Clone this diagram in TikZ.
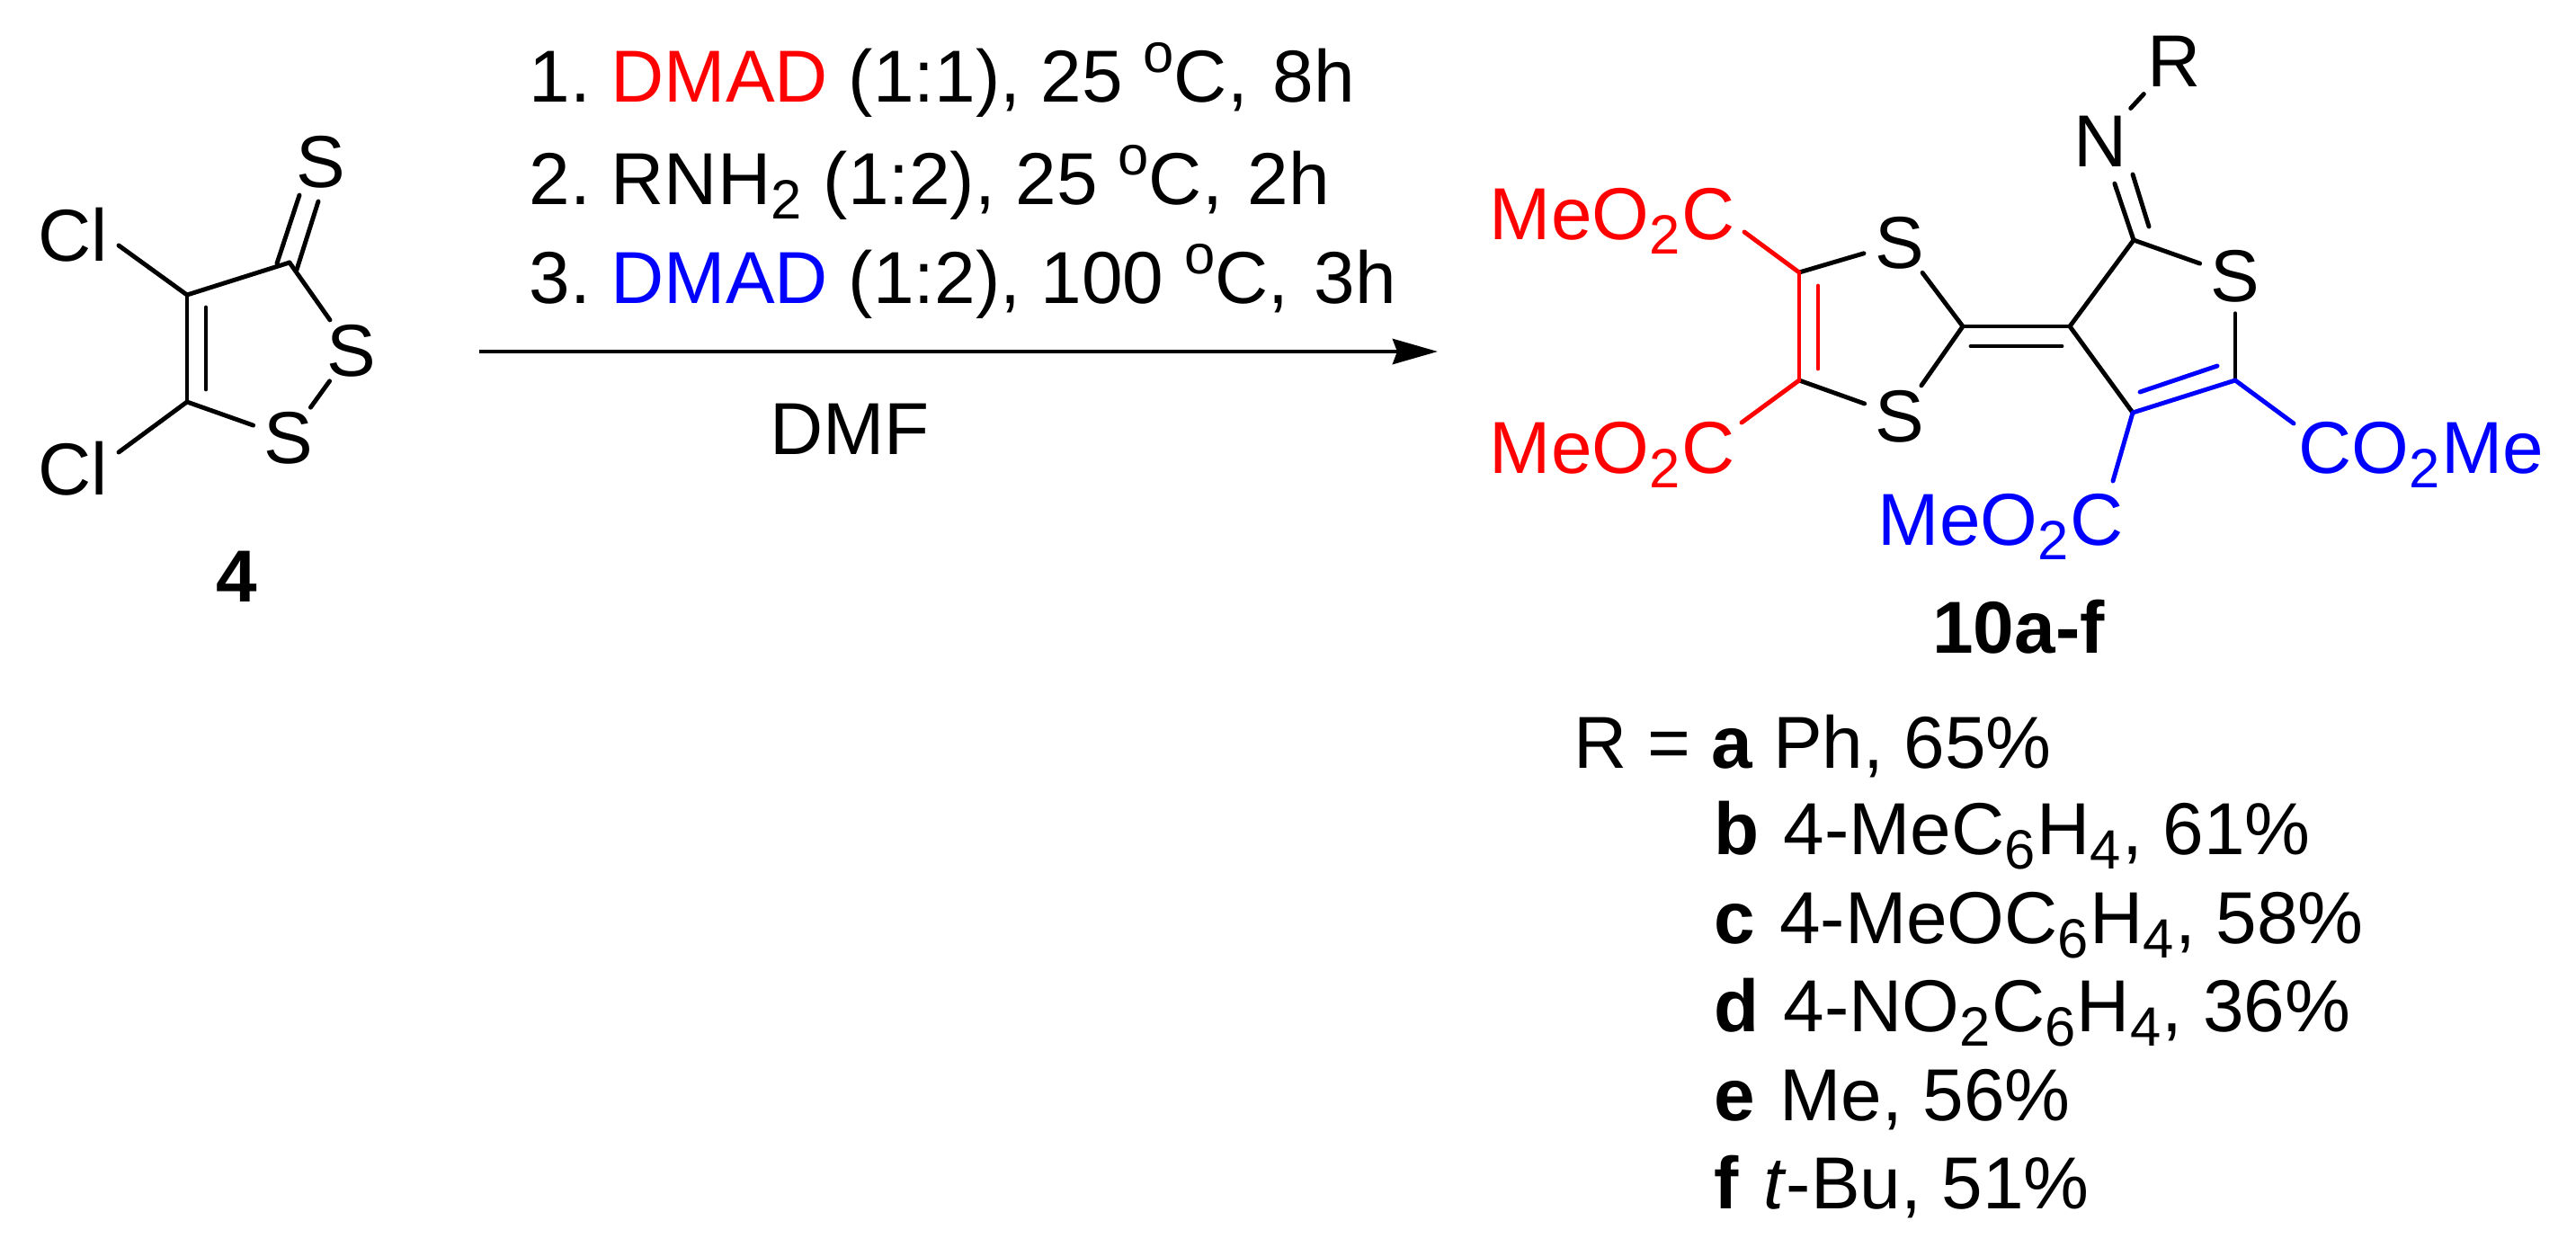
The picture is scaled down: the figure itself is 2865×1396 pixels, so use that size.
\documentclass[tikz,border=0pt]{standalone}
\usepackage{fontspec}
\setmainfont{Liberation Sans}
\usetikzlibrary{arrows.meta}
\newcommand{\subs}[1]{\raisebox{-4.8pt}{\fontsize{17.5}{18}\selectfont #1}\kern0.4pt\relax}
\newcommand{\sups}[1]{\raisebox{9.3pt}{\fontsize{17.5}{18}\selectfont #1}}
\newcommand{\rowtag}[1]{\textbf{#1}\kern1.2pt\relax}
\tikzset{
    bond/.style={line width=1.4pt, line cap=round},
    atom/.style={circle, inner sep=0pt, minimum size=0.82cm, font=\fontsize{23.3}{26}\selectfont},
    wideatom/.style={atom, minimum size=0.98cm},
    label/.style={inner sep=0pt, font=\fontsize{23.3}{26}\selectfont},
    boldlabel/.style={label, font=\fontsize{23.3}{26}\selectfont\bfseries},
}
\begin{document}
\frenchspacing
\begin{tikzpicture}[x=0.01cm, y=-0.01cm]
    \useasboundingbox (0, 0) rectangle (2865, 1396);

    % compound 4
    \coordinate (c4) at (208, 328);
    \coordinate (c5) at (208, 447);
    \coordinate (c3) at (322, 292);
    \coordinate (i4) at (229, 342);
    \coordinate (i5) at (229, 433);
    \coordinate (ta) at (308, 293);
    \coordinate (tb) at (333, 217);
    \coordinate (tc) at (330, 300);
    \coordinate (td) at (354, 224);
    \coordinate (ga) at (132, 273);
    \coordinate (gb) at (132, 503);
    \node[atom] (thio) at (357, 180) {S};
    \node[atom] (sr) at (391, 390) {S};
    \node[atom] (sb) at (321, 487) {S};
    \node[label, anchor=base] (cla) at (81, 290) {Cl};
    \node[label, anchor=base] (clb) at (81, 550) {Cl};
    \node[boldlabel] (four) at (263, 641) {4};

    \draw[bond] (c4) -- (c3);
    \draw[bond] (c4) -- (c5);
    \draw[bond] (i4) -- (i5);
    \draw[bond] (c3) -- (sr);
    \draw[bond] (sr) -- (sb);
    \draw[bond] (c5) -- (sb);
    \draw[bond] (c4) -- (ga);
    \draw[bond] (c5) -- (gb);
    \draw[bond] (ta) -- (tb);
    \draw[bond] (tc) -- (td);

    % reaction conditions
    \coordinate (arra) at (533, 391);
    \coordinate (arrb) at (1599, 391);
    \draw[bond, -{Stealth[length=0.5cm, width=0.28cm, inset=0.05cm]}, line cap=butt] (arra) -- (arrb);
    \node[label, anchor=base west] (stepa) at (588, 113)
        {1. \textcolor{red}{DMAD} (1:1), 25 \sups{o}C,\kern1.5pt{} 8h};
    \node[label, anchor=base west] (stepb) at (588, 227)
        {2. RNH\subs{2} (1:2), 25 \sups{o}C,\kern1.5pt{} 2h};
    \node[label, anchor=base west] (stepc) at (588, 337)
        {3. \textcolor{blue}{DMAD} (1:2), 100 \sups{o}C,\kern1.5pt{} 3h};
    \node[label, anchor=base] (dmf) at (945, 505) {DMF};

    % compound 10
    \coordinate (ca) at (2001, 303);
    \coordinate (cb) at (2001, 423);
    \coordinate (cm) at (2183, 363);
    \coordinate (cc) at (2302, 363);
    \coordinate (cn) at (2373, 267);
    \coordinate (cd) at (2486, 423);
    \coordinate (ce) at (2372, 459);
    \coordinate (ia) at (2022, 318);
    \coordinate (ib) at (2022, 410);
    \coordinate (ic) at (2192, 385);
    \coordinate (id) at (2293, 385);
    \coordinate (ie) at (2380, 436);
    \coordinate (if) at (2466, 407);
    \coordinate (ig) at (2390, 252);
    \coordinate (ih) at (2372, 194);
    \coordinate (ea) at (1940, 258);
    \coordinate (eb) at (1937, 470);
    \coordinate (ec) at (2350, 535);
    \coordinate (ed) at (2551, 471);
    \node[atom] (st) at (2113, 270) {S};
    \node[atom] (sd) at (2113, 463) {S};
    \node[atom] (sn) at (2486, 307) {S};
    \node[wideatom] (imn) at (2336, 157) {N};
    \node[wideatom] (rr) at (2418, 68) {R};
    \node[label, red, anchor=base east] (mea) at (1930, 266) {MeO\subs{2}C};
    \node[label, red, anchor=base east] (meb) at (1930, 526) {MeO\subs{2}C};
    \node[label, blue, anchor=base east] (mec) at (2362, 606) {MeO\subs{2}C};
    \node[label, blue, anchor=base west] (med) at (2556, 526) {CO\subs{2}Me};
    \node[boldlabel, anchor=base] (ten) at (2245, 726) {10a-f};

    \draw[bond] (ca) -- (st);
    \draw[bond] (st) -- (cm);
    \draw[bond] (cm) -- (sd);
    \draw[bond] (sd) -- (cb);
    \draw[bond] (cm) -- (cc);
    \draw[bond] (ic) -- (id);
    \draw[bond] (cc) -- (cn);
    \draw[bond] (cn) -- (sn);
    \draw[bond] (sn) -- (cd);
    \draw[bond] (cc) -- (ce);
    \draw[bond] (cn) -- (imn);
    \draw[bond] (ig) -- (ih);
    \draw[bond] (imn) -- (rr);
    \draw[bond, red] (ca) -- (cb);
    \draw[bond, red] (ia) -- (ib);
    \draw[bond, red] (ca) -- (ea);
    \draw[bond, red] (cb) -- (eb);
    \draw[bond, blue] (ce) -- (cd);
    \draw[bond, blue] (ie) -- (if);
    \draw[bond, blue] (ce) -- (ec);
    \draw[bond, blue] (cd) -- (ed);

    % substituents
    \node[label, anchor=base west] (ra) at (1750, 854) {R = \textbf{a} Ph, 65\%};
    \node[label, anchor=base west] (rb) at (1906, 950) {\rowtag{b} 4-MeC\subs{6}H\subs{4}, 61\%};
    \node[label, anchor=base west] (rc) at (1906, 1049) {\rowtag{c} 4-MeOC\subs{6}H\subs{4}, 58\%};
    \node[label, anchor=base west] (rd) at (1906, 1147) {\rowtag{d} 4-NO\subs{2}C\subs{6}H\subs{4}, 36\%};
    \node[label, anchor=base west] (re) at (1906, 1246) {\rowtag{e} Me, 56\%};
    \node[label, anchor=base west] (rf) at (1906, 1344) {\rowtag{f} \textit{t}-Bu, 51\%};
\end{tikzpicture}
\end{document}
